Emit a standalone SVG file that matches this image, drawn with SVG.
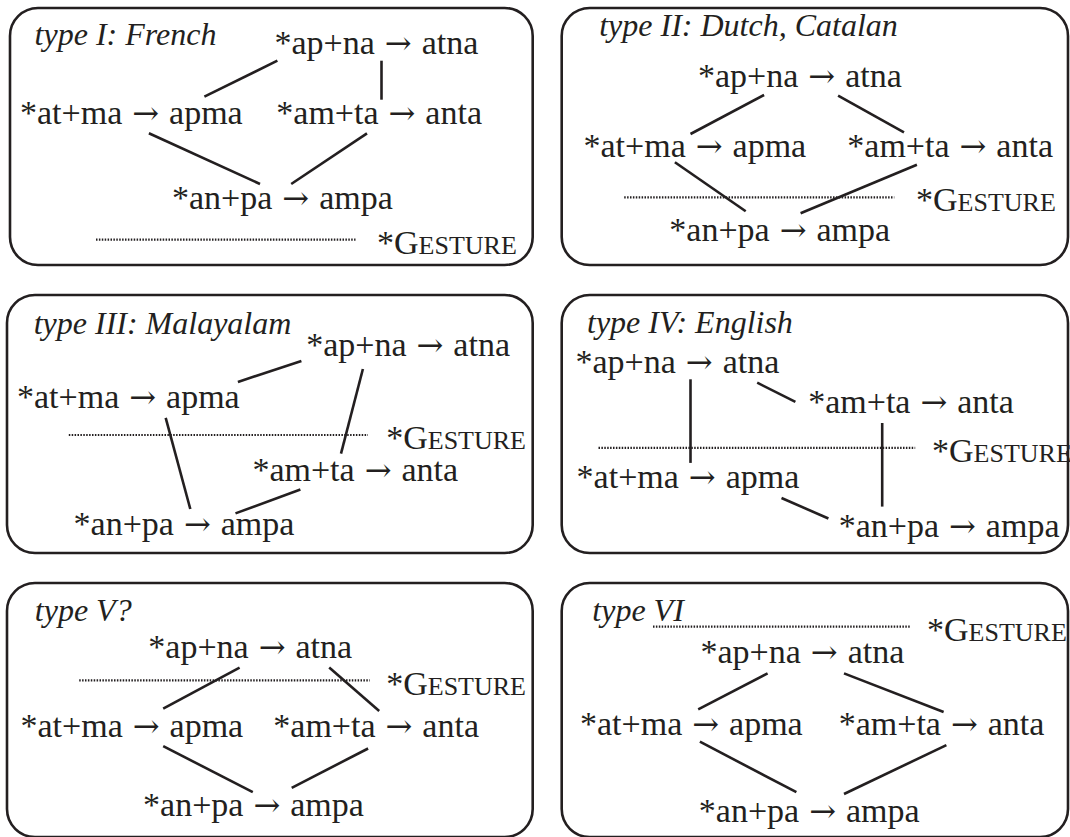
<svg xmlns="http://www.w3.org/2000/svg" width="1070" height="837" viewBox="0 0 1070 837">
  <style>
    .frame { fill: none; stroke: #231f20; stroke-width: 2.6; }
    text { font-family: 'Liberation Serif', 'Times New Roman', serif; fill: #231f20; }
    .t { font-size: 34px; word-spacing: 1.5px; }
    .title { font-size: 32px; font-style: italic; }
    .sc { font-size: 26px; }
    .arr { font-family: 'DejaVu Serif', 'Liberation Serif', serif; font-size: 32px; }
    .edge { stroke: #231f20; stroke-width: 2.6; fill: none; }
    .dots { stroke: #231f20; stroke-width: 2.2; stroke-dasharray: 1.5 1.4; fill: none; }
  </style>
  <rect width="1070" height="837" fill="#ffffff"/>

  <!-- Type I: French -->
  <g id="panel-1">
    <rect class="frame" x="10" y="8" width="522.7" height="257" rx="28"/>
    <text class="title" x="34.6" y="45">type I: French</text>
    <g id="p1-apna"><text class="t" x="274.5" y="54">*ap+na <tspan class="arr">→</tspan> atna</text></g>
    <g id="p1-atma"><text class="t" x="20" y="124">*at+ma <tspan class="arr">→</tspan> apma</text></g>
    <g id="p1-amta"><text class="t" x="276.3" y="124">*am+ta <tspan class="arr">→</tspan> anta</text></g>
    <g id="p1-anpa"><text class="t" x="172" y="209">*an+pa <tspan class="arr">→</tspan> ampa</text></g>
    <g id="p1-gesture">
      <line class="dots" x1="96" y1="239.7" x2="355.5" y2="239.7"/>
      <text class="t" x="377" y="254">*G<tspan class="sc">ESTURE</tspan></text>
    </g>
    <g id="p1-connectors">
      <line class="edge" x1="204.4" y1="96.7" x2="277.4" y2="60.7"/>
      <line class="edge" x1="381.5" y1="60.7" x2="381.5" y2="99.7"/>
      <line class="edge" x1="148.9" y1="133.3" x2="260" y2="184"/>
      <line class="edge" x1="367" y1="133.3" x2="291.2" y2="184"/>
    </g>
  </g>

  <!-- Type II: Dutch, Catalan -->
  <g id="panel-2">
    <rect class="frame" x="561.7" y="8" width="506.3" height="257" rx="28"/>
    <text class="title" x="599.2" y="35.7">type II: Dutch, Catalan</text>
    <g id="p2-apna"><text class="t" x="698" y="86.7">*ap+na <tspan class="arr">→</tspan> atna</text></g>
    <g id="p2-atma"><text class="t" x="583.5" y="157.3">*at+ma <tspan class="arr">→</tspan> apma</text></g>
    <g id="p2-amta"><text class="t" x="847.3" y="157.3">*am+ta <tspan class="arr">→</tspan> anta</text></g>
    <g id="p2-anpa"><text class="t" x="669.3" y="240.7">*an+pa <tspan class="arr">→</tspan> ampa</text></g>
    <g id="p2-gesture">
      <line class="dots" x1="624.2" y1="197.3" x2="894.3" y2="197.3"/>
      <text class="t" x="916" y="210.7">*G<tspan class="sc">ESTURE</tspan></text>
    </g>
    <g id="p2-connectors">
      <line class="edge" x1="690.5" y1="134" x2="764.1" y2="95"/>
      <line class="edge" x1="838.1" y1="95.7" x2="904" y2="132.3"/>
      <line class="edge" x1="674.9" y1="162.3" x2="745.7" y2="211.3"/>
      <line class="edge" x1="916.9" y1="164.7" x2="800.6" y2="213.3"/>
    </g>
  </g>

  <!-- Type III: Malayalam -->
  <g id="panel-3">
    <rect class="frame" x="7" y="295" width="525.7" height="258" rx="28"/>
    <text class="title" x="33.7" y="334.2">type III: Malayalam</text>
    <g id="p3-apna"><text class="t" x="306.2" y="356.4">*ap+na <tspan class="arr">→</tspan> atna</text></g>
    <g id="p3-atma"><text class="t" x="17" y="407.6">*at+ma <tspan class="arr">→</tspan> apma</text></g>
    <g id="p3-amta"><text class="t" x="252.4" y="481">*am+ta <tspan class="arr">→</tspan> anta</text></g>
    <g id="p3-anpa"><text class="t" x="73.6" y="535">*an+pa <tspan class="arr">→</tspan> ampa</text></g>
    <g id="p3-gesture">
      <line class="dots" x1="68.8" y1="435" x2="368" y2="435"/>
      <text class="t" x="386.2" y="448.6">*G<tspan class="sc">ESTURE</tspan></text>
    </g>
    <g id="p3-connectors">
      <line class="edge" x1="237.9" y1="382" x2="301.4" y2="360.9"/>
      <line class="edge" x1="362.9" y1="369" x2="341" y2="453.7"/>
      <line class="edge" x1="165.7" y1="417.9" x2="190.3" y2="509"/>
      <line class="edge" x1="235.5" y1="513.4" x2="300.4" y2="489.5"/>
    </g>
  </g>

  <!-- Type IV: English -->
  <g id="panel-4">
    <rect class="frame" x="561.7" y="295" width="506.3" height="258" rx="28"/>
    <text class="title" x="587" y="332.5">type IV: English</text>
    <g id="p4-apna"><text class="t" x="575.5" y="372.5">*ap+na <tspan class="arr">→</tspan> atna</text></g>
    <g id="p4-amta"><text class="t" x="808.2" y="412.7">*am+ta <tspan class="arr">→</tspan> anta</text></g>
    <g id="p4-atma"><text class="t" x="576.6" y="487.8">*at+ma <tspan class="arr">→</tspan> apma</text></g>
    <g id="p4-anpa"><text class="t" x="838.7" y="537.3">*an+pa <tspan class="arr">→</tspan> ampa</text></g>
    <g id="p4-gesture">
      <line class="dots" x1="598.5" y1="447.9" x2="915.2" y2="447.9"/>
      <text class="t" x="932" y="461.5">*G<tspan class="sc">ESTURE</tspan></text>
    </g>
    <g id="p4-connectors">
      <line class="edge" x1="690.5" y1="379.3" x2="690.5" y2="462.9"/>
      <line class="edge" x1="757.2" y1="382.7" x2="795.4" y2="401.8"/>
      <line class="edge" x1="882.2" y1="423" x2="882.2" y2="506.6"/>
      <line class="edge" x1="781.5" y1="498" x2="828.4" y2="518.5"/>
    </g>
  </g>

  <!-- Type V? -->
  <g id="panel-5">
    <rect class="frame" x="7" y="583" width="525.7" height="254" rx="28"/>
    <text class="title" x="34.8" y="620.5">type V?</text>
    <g id="p5-apna"><text class="t" x="148.3" y="658">*ap+na <tspan class="arr">→</tspan> atna</text></g>
    <g id="p5-atma"><text class="t" x="20.5" y="736.6">*at+ma <tspan class="arr">→</tspan> apma</text></g>
    <g id="p5-amta"><text class="t" x="273.3" y="736.6">*am+ta <tspan class="arr">→</tspan> anta</text></g>
    <g id="p5-anpa"><text class="t" x="143.1" y="815.8">*an+pa <tspan class="arr">→</tspan> ampa</text></g>
    <g id="p5-gesture">
      <line class="dots" x1="79.2" y1="680.3" x2="369.8" y2="680.3"/>
      <text class="t" x="386.2" y="695">*G<tspan class="sc">ESTURE</tspan></text>
    </g>
    <g id="p5-connectors">
      <line class="edge" x1="163.2" y1="708.6" x2="239.6" y2="667.6"/>
      <line class="edge" x1="329.2" y1="667.6" x2="379.2" y2="711"/>
      <line class="edge" x1="163.2" y1="746.1" x2="252.8" y2="792.2"/>
      <line class="edge" x1="368.1" y1="748.5" x2="291.7" y2="787.8"/>
    </g>
  </g>

  <!-- Type VI -->
  <g id="panel-6">
    <rect class="frame" x="561.7" y="583" width="506.3" height="254" rx="28"/>
    <text class="title" x="592.3" y="620.5">type VI</text>
    <g id="p6-apna"><text class="t" x="700.5" y="663.2">*ap+na <tspan class="arr">→</tspan> atna</text></g>
    <g id="p6-atma"><text class="t" x="580" y="734.9">*at+ma <tspan class="arr">→</tspan> apma</text></g>
    <g id="p6-amta"><text class="t" x="838.7" y="734.9">*am+ta <tspan class="arr">→</tspan> anta</text></g>
    <g id="p6-anpa"><text class="t" x="698.8" y="821.9">*an+pa <tspan class="arr">→</tspan> ampa</text></g>
    <g id="p6-gesture">
      <line class="dots" x1="653" y1="626.7" x2="910" y2="626.7"/>
      <text class="t" x="927" y="641">*G<tspan class="sc">ESTURE</tspan></text>
    </g>
    <g id="p6-connectors">
      <line class="edge" x1="698.2" y1="709.3" x2="767.6" y2="673.4"/>
      <line class="edge" x1="844" y1="673.4" x2="943.6" y2="712"/>
      <line class="edge" x1="699.9" y1="741.7" x2="796.4" y2="792.2"/>
      <line class="edge" x1="946.4" y1="745.1" x2="844" y2="794"/>
    </g>
  </g>
</svg>
